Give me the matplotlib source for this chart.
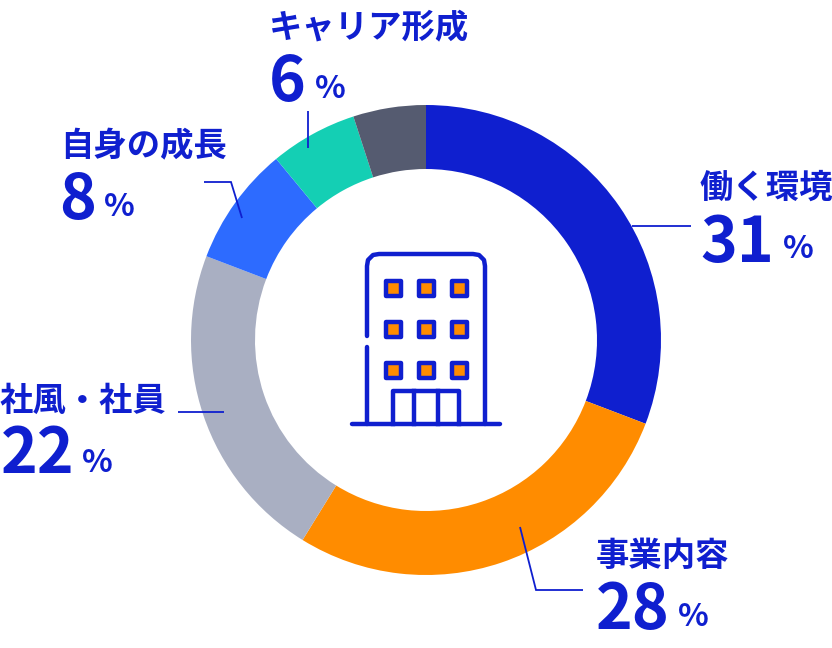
import matplotlib
matplotlib.use("Agg")
import matplotlib.pyplot as plt
from matplotlib.patches import Rectangle

plt.rcParams["font.family"] = ["Noto Sans CJK JP", "DejaVu Sans"]

W, H = 832, 648
BLUE = "#0f1fcf"
ORANGE = "#ff8c00"

# データ (時計回り, 12時スタート)。表示値は丸めてあるので弧は絵から読んだ値
labels = ["働く環境", "事業内容", "社風・社員", "自身の成長", "キャリア形成"]
shown = ["31", "28", "22", "8", "6"]
values = [30.8, 28.0, 22.0, 8.2, 6.0, 5.0]
colors = [BLUE, ORANGE, "#a9afc2", "#2d6bff", "#14cfb4", "#555b70"]

# ラベル位置 (ピクセル): 見出しx, 見出し基線, 数字x, 数字基線, %x, %基線
label_pos = [
    (700, 198, 700, 262, 783, 258),
    (596, 566, 596, 629, 678, 626),
    (0, 411, 1, 473, 82, 472),
    (60, 156, 59, 219, 104, 216),
    (269, 37, 269, 101, 315, 98),
]
leaders = [
    [(632, 226), (691, 226)],
    [(520, 527), (536, 590), (583, 590)],
    [(178, 412), (224, 412)],
    [(204, 182), (231, 182), (242, 218)],
    [(308, 111), (308, 148)],
]


def py(y):
    return H - y


fig = plt.figure(figsize=(W / 100, H / 100), dpi=100)
ax = fig.add_axes([0, 0, 1, 1])

ax.pie(values, colors=colors, startangle=90, counterclock=False,
       center=(426, py(340)), radius=235,
       wedgeprops={"width": 64, "linewidth": 0})
ax.set_xlim(0, W)
ax.set_ylim(0, H)
ax.set_aspect("equal")
ax.axis("off")

# 引き出し線
for pts in leaders:
    ax.plot([p[0] for p in pts], [py(p[1]) for p in pts],
            color=BLUE, lw=1.3, solid_capstyle="butt", solid_joinstyle="miter")

# ラベル
for name, num, (tx, ty, nx, ny, px, pb) in zip(labels, shown, label_pos):
    ax.text(tx, py(ty), name, color=BLUE, fontsize=24, fontweight="bold",
            ha="left", va="baseline")
    ax.text(nx, py(ny), num, color=BLUE, fontsize=45, fontweight="bold",
            ha="left", va="baseline")
    ax.text(px, py(pb), "%", color=BLUE, fontsize=23, fontweight="bold",
            ha="left", va="baseline")

# 中央のビルのアイコン
ICON_LW = 3.2
ax.plot([352, 500], [py(424), py(424)], color=BLUE, lw=ICON_LW, solid_capstyle="round")
# 外形 (左側は途中で切れる)
outline = [(367, 336), (367, 266), (368, 260), (373, 255), (379, 254),
           (473, 254), (479, 255), (484, 260), (485, 266), (485, 424)]
ax.plot([p[0] for p in outline], [py(p[1]) for p in outline], color=BLUE, lw=ICON_LW,
        solid_capstyle="round", solid_joinstyle="round")
ax.plot([367, 367], [py(347), py(424)], color=BLUE, lw=ICON_LW, solid_capstyle="round")

for wy in [288, 329, 370]:
    for wx in [393, 426, 459]:
        ax.add_patch(Rectangle((wx - 7.5, py(wy) - 7.5), 15, 15, fc=ORANGE, ec=BLUE,
                               lw=ICON_LW, joinstyle="round"))

door = [(393, 424), (393, 391), (459, 391), (459, 424)]
ax.plot([p[0] for p in door], [py(p[1]) for p in door], color=BLUE, lw=ICON_LW,
        solid_joinstyle="round")
for dx in [414, 438]:
    ax.plot([dx, dx], [py(391), py(424)], color=BLUE, lw=ICON_LW)

fig.savefig("out.png", dpi=100)
